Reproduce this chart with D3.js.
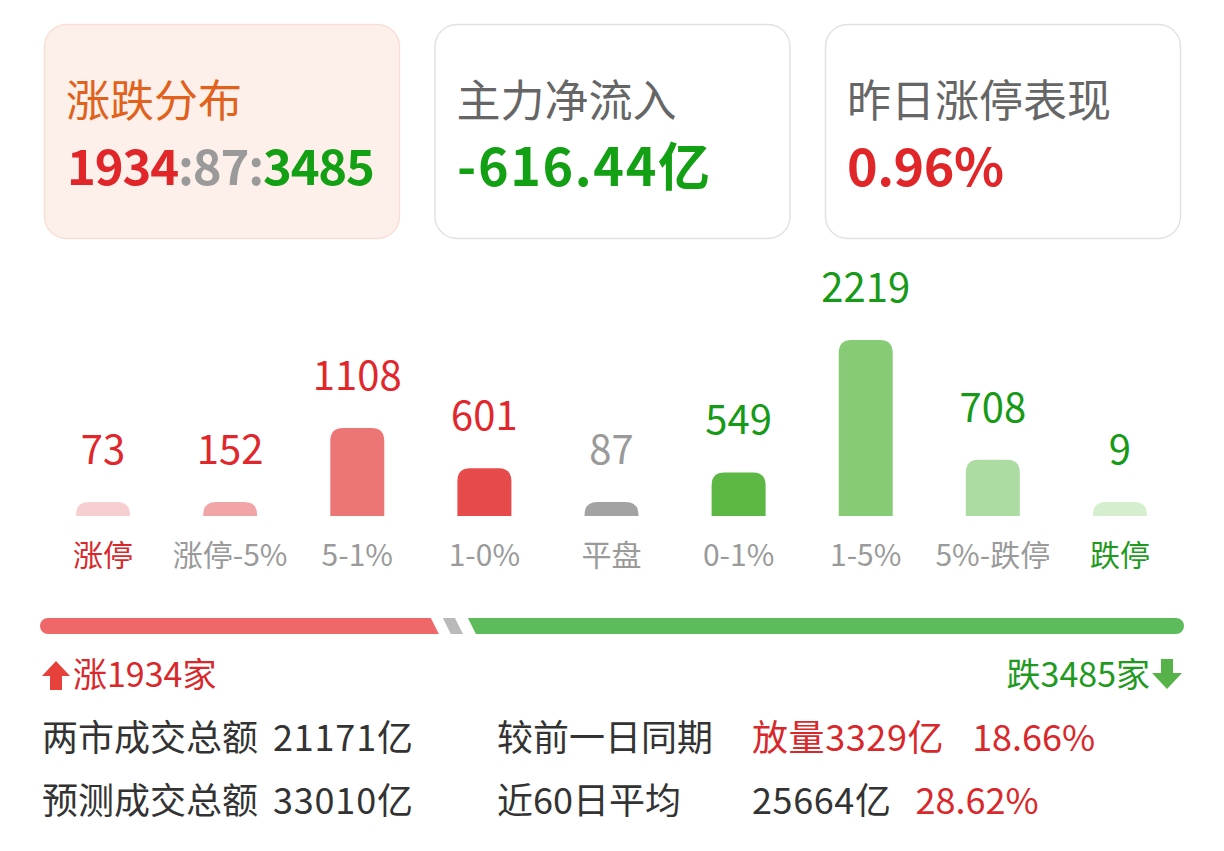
<!DOCTYPE html>
<html><head><meta charset="utf-8">
<script src="https://cdn.jsdelivr.net/npm/d3@7"></script>
<style>
html,body{margin:0;padding:0;background:#fff;}
svg{display:block;}
text{font-family:"Noto Sans CJK SC","Noto Sans",sans-serif;}
</style></head>
<body>
<svg id="c" width="1224" height="851"></svg>
<script>
// ---- data ----
const categories = ["涨停","涨停-5%","5-1%","1-0%","平盘","0-1%","1-5%","5%-跌停","跌停"];
const counts = [73,152,1108,601,87,549,2219,708,9];
const barColors = ["#f8cfd0","#f1a5a7","#ec7576","#e74a4b","#a3a3a3","#5db745","#87cb77","#acdca1","#d5eecd"];
const valueColors = ["#e1272b","#e1272b","#e1272b","#e1272b","#9a9a9a","#179a17","#179a17","#179a17","#179a17"];
const labelColors = ["#d9282b","#9a9a9a","#9a9a9a","#9a9a9a","#9a9a9a","#9a9a9a","#9a9a9a","#9a9a9a","#1f9a1f"];

const cardTitles = ["涨跌分布","主力净流入","昨日涨停表现"];
const upCount = 1934, flatCount = 87, downCount = 3485;
const netInflow = "-616.44亿";
const yesterdayLimit = "0.96%";

const statLabels = ["两市成交总额","预测成交总额"];
const statValues = ["21171亿","33010亿"];
const compareLabels = ["较前一日同期","近60日平均"];
const compareValues = ["放量3329亿","25664亿"];
const comparePcts = ["18.66%","28.62%"];

// ---- drawing ----
const svg = d3.select("#c");

// stretch a text's spacing so its run spans the given width
function fitWidth(sel, target){
  const node = sel.node();
  const len = node.getComputedTextLength();
  const n = node.textContent.length;
  if (n > 1) sel.attr("letter-spacing", (target - len) / (n - 1));
  return sel;
}

// cards
const cardX = d3.scalePoint().domain(cardTitles).range([44,825]);
const cardW = 355, cardY = 24, cardH = 214;
const cards = svg.selectAll("g.card").data(cardTitles).join("g")
  .attr("transform", d => `translate(${cardX(d)},${cardY})`);
cards.append("rect").attr("x",0.5).attr("y",0.5).attr("width",cardW).attr("height",cardH)
  .attr("rx",22).attr("fill",(d,i)=> i===0 ? "#fdf0ea" : "#fff")
  .attr("stroke",(d,i)=> i===0 ? "#f7dfd5" : "#e2e2e2").attr("stroke-width",1.5);
cards.append("text").attr("x",22).attr("y",74).attr("dominant-baseline","central")
  .attr("font-size",44).attr("fill",(d,i)=> i===0 ? "#e0621c" : "#666")
  .text(d=>d);

const valStyle = sel => sel.attr("font-family","'Noto Sans','DejaVu Sans',sans-serif").attr("font-weight",700).attr("font-size",52);
const t0 = svg.append("text").attr("x",67).attr("y",163).attr("dominant-baseline","central").call(valStyle).attr("font-size",49);
t0.append("tspan").attr("fill","#e1262a").text(upCount);
t0.append("tspan").attr("fill","#9a9a9a").text(":"+flatCount+":");
t0.append("tspan").attr("fill","#14a014").text(downCount);
fitWidth(t0, 308);
const t1 = svg.append("text").attr("x",457).attr("y",163).attr("dominant-baseline","central").call(valStyle)
  .attr("fill","#14a014").text(netInflow);
fitWidth(t1, 253);
const t2 = svg.append("text").attr("x",847).attr("y",163).attr("dominant-baseline","central").call(valStyle)
  .attr("fill","#e1262a").text(yesterdayLimit);
fitWidth(t2, 157);

// bars
const x = d3.scalePoint().domain(categories).range([39.5,1183.5]).padding(0.5);
const baseY = 516;
const y = d3.scaleLinear().domain([0, d3.max(counts)]).range([0,176]);
const barW = 54, minH = 14;
function barPath(cx, h){
  const r = Math.min(13, h);
  const x0 = cx - barW/2, x1 = cx + barW/2, top = baseY - h;
  return `M${x0},${baseY} L${x0},${top+r} Q${x0},${top} ${x0+r},${top} L${x1-r},${top} Q${x1},${top} ${x1},${top+r} L${x1},${baseY} Z`;
}
const bh = d => Math.max(minH, y(d));
const g = svg.append("g");
g.selectAll("path.bar").data(counts).join("path")
  .attr("d",(d,i)=> barPath(x(categories[i]), bh(d)))
  .attr("fill",(d,i)=> barColors[i]);
g.selectAll("text.val").data(counts).join("text")
  .attr("x",(d,i)=> x(categories[i])).attr("y",d=> baseY - bh(d) - 55)
  .attr("text-anchor","middle").attr("dominant-baseline","central")
  .attr("font-size",40).attr("fill",(d,i)=> valueColors[i]).text(d=>d);
g.selectAll("text.cat").data(categories).join("text")
  .attr("x",d=> x(d)).attr("y",553).attr("text-anchor","middle").attr("dominant-baseline","central")
  .attr("font-size",30).attr("fill",(d,i)=> labelColors[i]).text(d=>d);

// split bar
const total = upCount + flatCount + downCount;
const px = d3.scaleLinear().domain([0,total]).range([40,1184]);
const py0 = 618, py1 = 634, ph = py1 - py0, sl = 4, gap = 4;
const b1 = px(upCount), b2 = px(upCount + flatCount);
svg.append("path").attr("fill","#f06769")
  .attr("d",`M${px(0)+ph/2},${py0} L${b1-gap-sl-3},${py0} L${b1-gap+sl-3},${py1} L${px(0)+ph/2},${py1} A${ph/2},${ph/2} 0 0 1 ${px(0)+ph/2},${py0} Z`);
svg.append("path").attr("fill","#b9b9b9")
  .attr("d",`M${b1+gap-sl+1},${py0} L${b2-gap-sl+3},${py0} L${b2-gap+sl+3},${py1} L${b1+gap+sl+1},${py1} Z`);
svg.append("path").attr("fill","#5cbb5a")
  .attr("d",`M${b2+gap+4},${py0} L${px(total)-ph/2},${py0} A${ph/2},${ph/2} 0 0 1 ${px(total)-ph/2},${py1} L${b2+gap+sl*2+4},${py1} Z`);

// up / down legends
svg.append("path").attr("fill","#e8403b")
  .attr("d","M42,676 L56,661 L70,676 L62,676 L62,690 L50,690 L50,676 Z");
svg.append("text").attr("x",73).attr("y",672).attr("dominant-baseline","central")
  .attr("font-size",34).attr("fill","#d9282b").text("涨"+upCount+"家");
svg.append("path").attr("fill","#58b24a")
  .attr("d","M1161,659 L1173,659 L1173,673 L1182,673 L1167,689 L1152,673 L1161,673 Z");
svg.append("text").attr("x",1150).attr("y",672).attr("text-anchor","end").attr("dominant-baseline","central")
  .attr("font-size",34).attr("fill","#1f9a1f").text("跌"+downCount+"家");

// stats rows
const rowY = d3.scalePoint().domain([0,1]).range([735,798]);
statLabels.forEach((lab,i)=>{
  const yy = rowY(i);
  const s = svg.append("text").attr("x",42).attr("y",yy).attr("dominant-baseline","central")
    .attr("font-size",36).attr("fill","#333");
  s.append("tspan").text(lab);
  s.append("tspan").attr("dx",15).attr("letter-spacing",0.8).text(statValues[i]);
  svg.append("text").attr("x",497).attr("y",yy).attr("dominant-baseline","central")
    .attr("font-size",36).attr("fill","#333").text(compareLabels[i]);
  const t = svg.append("text").attr("x",752).attr("y",yy).attr("dominant-baseline","central").attr("font-size",36);
  t.append("tspan").attr("fill", i===0 ? "#d9282b" : "#333").attr("letter-spacing",0.6).text(compareValues[i]);
  t.append("tspan").attr("fill","#d9282b").attr("dx",i===0 ? 28 : 24).text(comparePcts[i]);
});
</script>
</body></html>
